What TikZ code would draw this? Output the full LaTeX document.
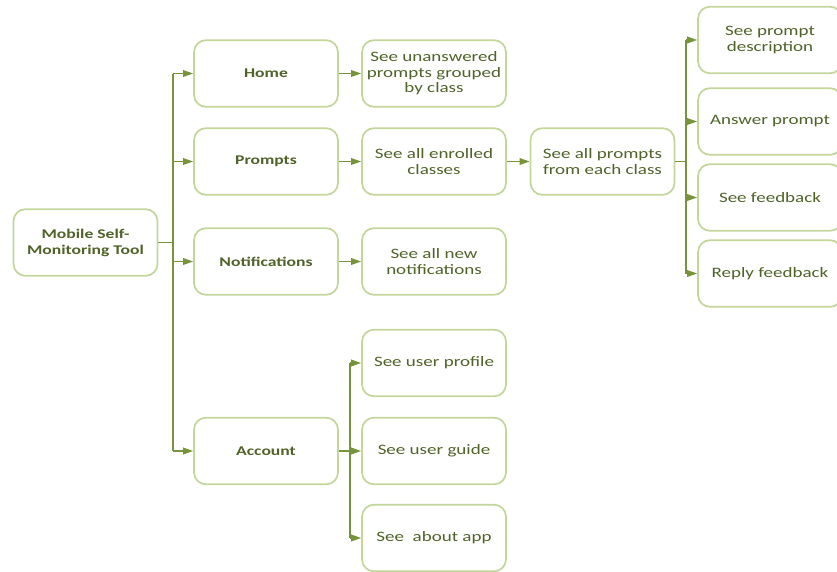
\documentclass[tikz,border=0pt]{standalone}
\usepackage{fontspec}
\setmainfont{Carlito}[FakeStretch=1.32]
\usepackage{tikz}
\usetikzlibrary{arrows.meta,positioning}

\definecolor{boxline}{HTML}{C3D69B}
\definecolor{linkline}{HTML}{77933C}
\definecolor{boxtext}{HTML}{4F6228}

\begin{document}
\begin{tikzpicture}[x=0.75pt,y=-0.75pt,
  >={Triangle[length=7.5pt,width=5pt]},
  box/.style={draw=boxline,line width=1.3pt,rounded corners=9pt,fill=white,
    minimum width=108pt,minimum height=50pt,align=center,text=boxtext,
    font=\fontsize{10.8}{11.6}\selectfont},
  head/.style={box,font=\fontsize{10}{12}\selectfont\bfseries},
  link/.style={draw=linkline,line width=1.1pt},
  arr/.style={link,->}]
  \useasboundingbox (0,0) rectangle (837,571);

  % root and first level
  \node (root) [head] at (85.5,242.5) {Mobile Self-\\Monitoring Tool};
  \node (home) [head] at (266,73.5) {Home};
  \node (prompts) [head] at (266,161.5) {Prompts};
  \node (notif) [head] at (266,261.5) {Notifications};
  \node (account) [head] at (266,451) {Account};

  % second level
  \node (unans) [box] at (434,73.5) {See unanswered\\prompts grouped\\by class};
  \node (classes) [box] at (434,161.5) {See all enrolled\\classes};
  \node (newnot) [box] at (434,261.5) {See all new\\notifications};
  \node (profile) [box] at (434,363) {See user profile};
  \node (guide) [box] at (434,451) {See user guide};
  \node (about) [box] at (434,538) {See~~about app};

  % prompts branch
  \node (each) [box] at (602.5,161.5) {See all prompts\\from each class};
  \node (desc) [box] at (770,40) {See prompt\\description};
  \node (answer) [box] at (770,121.5) {Answer prompt};
  \node (feedback) [box] at (770,197.5) {See feedback};
  \node (reply) [box] at (770,273.5) {Reply feedback};

  \coordinate (t1) at (173,242.5);
  \coordinate (t2) at (350,451);
  \coordinate (t3) at (686,161.5);

  \path[link] (root) -- (t1)
    (t1 |- home) -- (t1 |- account)
    (account) -- (t2)
    (t2 |- profile) -- (t2 |- about)
    (each) -- (t3)
    (t3 |- desc) -- (t3 |- reply);
  \path (t1 |- home) edge[arr] (home)
    (t1 |- prompts) edge[arr] (prompts)
    (t1 |- notif) edge[arr] (notif)
    (t1 |- account) edge[arr] (account)
    (home) edge[arr] (unans)
    (prompts) edge[arr] (classes)
    (notif) edge[arr] (newnot)
    (classes) edge[arr] (each)
    (t2 |- profile) edge[arr] (profile)
    (t2 |- guide) edge[arr] (guide)
    (t2 |- about) edge[arr] (about)
    (t3 |- desc) edge[arr] (desc)
    (t3 |- answer) edge[arr] (answer)
    (t3 |- feedback) edge[arr] (feedback)
    (t3 |- reply) edge[arr] (reply);
\end{tikzpicture}
\end{document}
